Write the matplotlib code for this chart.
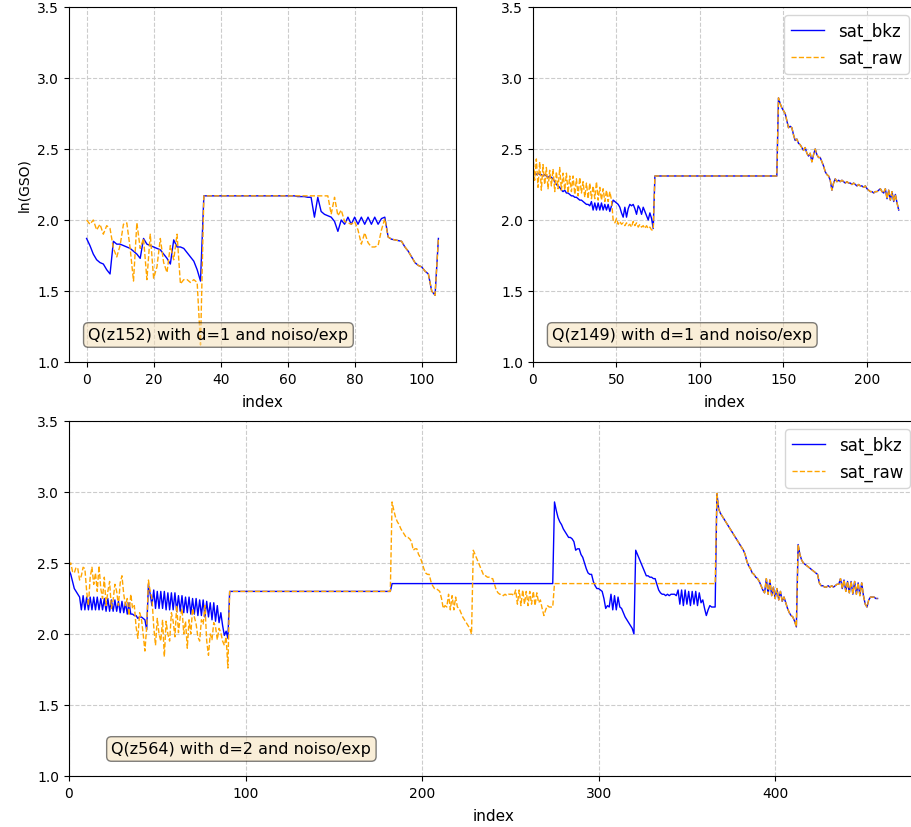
import matplotlib
matplotlib.use("Agg")
import matplotlib.pyplot as plt
import numpy as np

# ---- panel 1 : Q(z152), d=1 ----
tl_bkz_a = [1.87, 1.82, 1.76, 1.72, 1.70, 1.69, 1.65, 1.62, 1.85, 1.83,
            1.83, 1.82, 1.81, 1.80, 1.78, 1.76, 1.73, 1.87, 1.83, 1.82,
            1.81, 1.80, 1.79, 1.76, 1.73, 1.69, 1.86, 1.81, 1.81, 1.80,
            1.77, 1.74, 1.71, 1.65, 1.57]
tl_raw_a = [2.00, 1.97, 2.00, 1.93, 1.97, 1.90, 1.96, 1.94, 1.80, 1.74,
            1.82, 1.97, 1.98, 1.80, 1.57, 1.98, 1.80, 1.87, 1.58, 1.90,
            1.59, 1.67, 1.87, 1.70, 1.63, 1.82, 1.72, 1.90, 1.55, 1.58,
            1.58, 1.56, 1.58, 1.56, 1.12]
tl_flat = 2.17
tl_bkz_c = [2.17, 2.165, 2.165, 2.165, 2.16, 2.16, 2.02, 2.16, 2.06, 2.04,
            2.03, 2.02, 1.99, 1.92, 2.00, 1.97, 2.02, 1.97, 2.02, 1.97,
            2.02, 1.97, 2.02, 1.97, 2.02, 1.97, 2.01, 2.02, 1.88, 1.865,
            1.86, 1.855, 1.85, 1.81, 1.78, 1.74, 1.70, 1.68, 1.67, 1.64,
            1.62, 1.50, 1.47, 1.87]
tl_raw_c = [2.17, 2.17, 2.17, 2.17, 2.17, 2.17, 2.17, 2.17, 2.17, 2.17,
            2.17, 2.04, 2.16, 2.03, 2.07, 1.99, 1.98, 1.97, 1.99, 1.93,
            1.83, 1.91, 1.84, 1.81, 1.81, 1.82, 1.93, 2.01]

# ---- panel 2 : Q(z149), d=1 ----
tr_bkz_a = [2.33, 2.33, 2.32, 2.33, 2.32, 2.32, 2.31, 2.32, 2.31, 2.30,
            2.31, 2.30, 2.29, 2.27, 2.25, 2.24, 2.23, 2.21, 2.20, 2.21,
            2.19, 2.19, 2.18, 2.17, 2.17, 2.16, 2.16, 2.15, 2.14, 2.14,
            2.13, 2.12, 2.11, 2.11, 2.10, 2.13, 2.07, 2.12, 2.07, 2.12,
            2.07, 2.12, 2.07, 2.11, 2.07, 2.11, 2.06, 2.10, 2.14, 2.13,
            2.12, 2.11, 2.09, 2.05, 2.02, 2.09, 2.02, 2.08, 2.11, 2.10,
            2.11, 2.08, 2.04, 2.10, 2.08, 2.04, 2.09, 2.06, 2.03, 2.00,
            2.05, 2.01, 1.94]
tr_raw_a = [2.46, 2.28, 2.43, 2.23, 2.41, 2.21, 2.39, 2.25, 2.37, 2.22,
            2.35, 2.24, 2.36, 2.20, 2.34, 2.22, 2.37, 2.21, 2.33, 2.21,
            2.33, 2.19, 2.31, 2.20, 2.31, 2.18, 2.29, 2.17, 2.30, 2.19,
            2.27, 2.16, 2.26, 2.15, 2.26, 2.15, 2.24, 2.15, 2.27, 2.14,
            2.23, 2.14, 2.22, 2.13, 2.21, 2.13, 2.20, 2.14, 2.00, 1.98,
            2.01, 1.97, 1.99, 1.97, 1.98, 1.96, 1.98, 1.96, 1.97, 1.95,
            1.99, 1.96, 1.98, 1.95, 1.97, 1.95, 1.96, 1.94, 1.96, 1.94,
            1.95, 1.93, 1.93]
tr_flat = 2.31
tr_tail = [2.86, 2.82, 2.79, 2.77, 2.75, 2.70, 2.65, 2.66, 2.65, 2.60,
           2.56, 2.57, 2.54, 2.53, 2.51, 2.49, 2.51, 2.47, 2.45, 2.47,
           2.41, 2.46, 2.50, 2.46, 2.44, 2.44, 2.41, 2.38, 2.34, 2.32,
           2.31, 2.28, 2.21, 2.26, 2.29, 2.27, 2.28, 2.27, 2.28, 2.27,
           2.26, 2.27, 2.26, 2.26, 2.25, 2.26, 2.25, 2.24, 2.25, 2.24,
           2.24, 2.23, 2.24, 2.22, 2.21, 2.20, 2.20, 2.19, 2.20, 2.20,
           2.21, 2.22, 2.20, 2.19, 2.22, 2.15, 2.21, 2.14, 2.20, 2.13,
           2.18, 2.12, 2.07]

# ---- panel 3 : Q(z564), d=2 ----
b_bkz_a = [2.45, 2.42, 2.37, 2.32, 2.30, 2.28, 2.26,
           2.17, 2.27, 2.17, 2.26, 2.17, 2.26, 2.17, 2.26, 2.17, 2.26,
           2.17, 2.25, 2.17, 2.25, 2.16, 2.25, 2.16, 2.24, 2.16, 2.24,
           2.16, 2.23, 2.15, 2.23, 2.15, 2.22, 2.14, 2.22, 2.14, 2.14,
           2.13, 2.13, 2.11, 2.12, 2.12, 2.11, 2.10, 2.03, 2.35, 2.28,
           2.20, 2.31, 2.18, 2.30, 2.18, 2.30, 2.18, 2.30, 2.17, 2.29,
           2.17, 2.29, 2.17, 2.29, 2.16, 2.27, 2.16, 2.27, 2.15, 2.26,
           2.15, 2.26, 2.14, 2.25, 2.14, 2.25, 2.13, 2.24, 2.13, 2.24,
           2.12, 2.23, 2.12, 2.22, 2.10, 2.22, 2.09, 2.20, 2.08, 2.15,
           2.06, 1.99, 2.02, 1.97]
b_raw_a = [2.48, 2.50, 2.44, 2.43, 2.47, 2.46, 2.38, 2.41, 2.47, 2.46,
           2.30, 2.20, 2.40, 2.47, 2.35, 2.43, 2.30, 2.48, 2.32, 2.25,
           2.40, 2.20, 2.30, 2.37, 2.18, 2.24, 2.35, 2.30, 2.20, 2.36,
           2.41, 2.28, 2.20, 2.25, 2.13, 2.28, 2.18, 2.20, 2.05, 1.97,
           2.15, 2.11, 2.00, 1.88, 2.05, 2.38, 2.30, 2.25, 2.05, 1.92,
           2.11, 2.00, 1.95, 2.10, 1.84, 2.09, 2.00, 1.95, 2.15, 2.09,
           1.98, 2.20, 2.01, 2.12, 2.18, 2.00, 2.09, 1.90, 2.10, 2.00,
           2.18, 2.12, 2.07, 1.98, 1.95, 2.10, 2.07, 2.20, 1.95, 1.85,
           2.00, 1.96, 2.08, 2.05, 1.96, 2.04, 2.01, 1.95, 1.92, 1.98,
           1.76]
b_flat_1 = 2.30
b_flat_2 = 2.355
# same decay shape: raw in block 3, bkz in block 4
b_drop = [2.93, 2.87, 2.82, 2.79, 2.77, 2.74, 2.72, 2.70, 2.68, 2.68,
          2.67, 2.65, 2.59, 2.60, 2.60, 2.56, 2.54, 2.50, 2.46, 2.43,
          2.42, 2.42, 2.37, 2.34, 2.32, 2.32, 2.31, 2.30, 2.25, 2.18,
          2.20, 2.19, 2.28, 2.17, 2.27, 2.17, 2.26, 2.19, 2.18, 2.15,
          2.12, 2.10, 2.08, 2.06, 2.04, 2.00, 2.59, 2.56, 2.53, 2.50,
          2.47, 2.44, 2.41, 2.41, 2.40, 2.40, 2.39, 2.39, 2.35, 2.31,
          2.29, 2.28, 2.28, 2.27, 2.28, 2.27, 2.28, 2.28, 2.28, 2.27,
          2.31, 2.21, 2.31, 2.20, 2.31, 2.21, 2.30, 2.20, 2.30, 2.21,
          2.30, 2.20, 2.29, 2.22, 2.24, 2.18, 2.13, 2.17, 2.20, 2.19,
          2.19, 2.19]
b_tail = [2.99, 2.88, 2.85, 2.83, 2.81, 2.79, 2.77, 2.75, 2.73, 2.71,
          2.69, 2.67, 2.65, 2.63, 2.61, 2.59, 2.56, 2.51, 2.48, 2.46,
          2.43, 2.42, 2.40, 2.39, 2.37, 2.34, 2.31, 2.29, 2.39, 2.28,
          2.38, 2.27, 2.33, 2.25, 2.32, 2.24, 2.30, 2.23, 2.26, 2.22,
          2.18, 2.15, 2.13, 2.12, 2.09, 2.05, 2.63, 2.56, 2.52, 2.50,
          2.49, 2.48, 2.47, 2.46, 2.45, 2.44, 2.43, 2.42, 2.36, 2.34,
          2.34, 2.33, 2.33, 2.34, 2.33, 2.34, 2.33, 2.34, 2.35, 2.35,
          2.39, 2.32, 2.38, 2.30, 2.37, 2.29, 2.37, 2.28, 2.37, 2.28,
          2.36, 2.27, 2.36, 2.27, 2.21, 2.19, 2.24, 2.26, 2.26, 2.26,
          2.25, 2.25]


def build(*parts):
    # parts: (start, values) -> consecutive indices, or (a, b, v) -> flat run
    xs, ys = [], []
    for p in parts:
        if len(p) == 3:
            xs += [p[0], p[1]]
            ys += [p[2], p[2]]
        else:
            xs += list(range(p[0], p[0] + len(p[1])))
            ys += list(p[1])
    return np.array(xs), np.array(ys)


tl_b = build((0, tl_bkz_a), (35, 61, tl_flat), (62, tl_bkz_c))
tl_r = build((0, tl_raw_a), (35, 61, tl_flat), (62, tl_raw_c), (90, tl_bkz_c[28:]))

tr_b = build((0, tr_bkz_a), (73, 146, tr_flat), (147, tr_tail))
tr_r = build((0, tr_raw_a), (73, 146, tr_flat), (147, tr_tail))

b_b = build((0, b_bkz_a), (91, 182, b_flat_1), (183, 274, b_flat_2),
            (275, b_drop), (367, b_tail))
b_r = build((0, b_raw_a), (91, 182, b_flat_1), (183, b_drop),
            (275, 366, b_flat_2), (367, b_tail))

W, H = 912, 828
fig = plt.figure(figsize=(W / 100, H / 100), dpi=100)


def px_axes(l, t, r, b):
    return fig.add_axes([l / W, 1 - b / H, (r - l) / W, (b - t) / H])


ax1 = px_axes(69, 8, 456, 363)
ax2 = px_axes(533, 8, 917, 363)
ax3 = px_axes(69, 422, 918, 777)

panels = [
    (ax1, tl_b, tl_r, "Q(z152) with d=1 and noiso/exp", None, False),
    (ax2, tr_b, tr_r, "Q(z149) with d=1 and noiso/exp", (0, 229.95), True),
    (ax3, b_b, b_r, "Q(z564) with d=2 and noiso/exp", (0, 480.9), True),
]

for ax, bk, rw, label, xl, leg in panels:
    ax.plot(bk[0], bk[1], color="blue", lw=1, label="sat_bkz")
    ax.plot(rw[0], rw[1], color="orange", lw=1, ls="--", label="sat_raw")
    ax.set_ylim(1.0, 3.5)
    ax.set_yticks([1.0, 1.5, 2.0, 2.5, 3.0, 3.5])
    if xl is not None:
        ax.set_xlim(*xl)
    ax.grid(True, ls="--", color="#cccccc", lw=0.8)
    ax.set_axisbelow(True)
    ax.set_xlabel("index", fontsize=11, labelpad=6)
    ax.text(0.05, 0.055, label, transform=ax.transAxes, fontsize=11.5,
            va="bottom", ha="left",
            bbox=dict(boxstyle="round", facecolor="wheat", alpha=0.5))
    if leg:
        ax.legend(loc="upper right", fontsize=12)

ax1.set_ylabel("ln(GSO)")

plt.savefig("out.png", dpi=100)
